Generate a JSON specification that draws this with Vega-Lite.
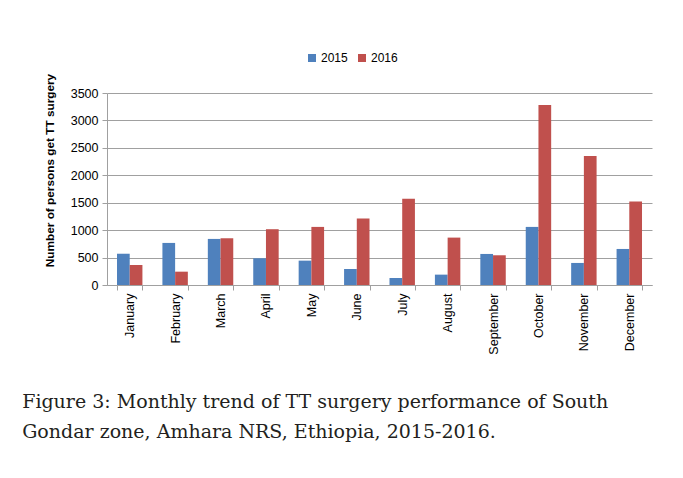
{
  "$schema": "https://vega.github.io/schema/vega-lite/v6.json",
  "width": 545,
  "height": 192,
  "autosize": {"type": "none"},
  "padding": {"left": 107, "top": 93, "right": 31, "bottom": 194},
  "background": "white",
  "config": {"view": {"stroke": null}, "font": "Liberation Sans"},
  "title": {
    "text": ["Figure 3: Monthly trend of TT surgery performance of South", "Gondar zone, Amhara NRS, Ethiopia, 2015-2016."],
    "orient": "bottom",
    "anchor": "start",
    "frame": "bounds",
    "font": "DejaVu Serif",
    "fontSize": 19,
    "fontWeight": "normal",
    "lineHeight": 30,
    "color": "#231f20",
    "dx": -22,
    "offset": 39
  },
  "data": {
    "values": [
      {"month": "January", "year": "2015", "value": 570},
      {"month": "January", "year": "2016", "value": 365},
      {"month": "February", "year": "2015", "value": 767},
      {"month": "February", "year": "2016", "value": 243},
      {"month": "March", "year": "2015", "value": 840},
      {"month": "March", "year": "2016", "value": 852},
      {"month": "April", "year": "2015", "value": 487},
      {"month": "April", "year": "2016", "value": 1017},
      {"month": "May", "year": "2015", "value": 444},
      {"month": "May", "year": "2016", "value": 1059},
      {"month": "June", "year": "2015", "value": 292},
      {"month": "June", "year": "2016", "value": 1211},
      {"month": "July", "year": "2015", "value": 128},
      {"month": "July", "year": "2016", "value": 1570},
      {"month": "August", "year": "2015", "value": 189},
      {"month": "August", "year": "2016", "value": 864},
      {"month": "September", "year": "2015", "value": 566},
      {"month": "September", "year": "2016", "value": 542},
      {"month": "October", "year": "2015", "value": 1059},
      {"month": "October", "year": "2016", "value": 3281},
      {"month": "November", "year": "2015", "value": 402},
      {"month": "November", "year": "2016", "value": 2350},
      {"month": "December", "year": "2015", "value": 657},
      {"month": "December", "year": "2016", "value": 1522}
    ]
  },
  "mark": {"type": "bar"},
  "encoding": {
    "x": {
      "field": "month",
      "type": "nominal",
      "sort": ["January", "February", "March", "April", "May", "June", "July", "August", "September", "October", "November", "December"],
      "scale": {"paddingInner": 0.44, "paddingOuter": 0.22},
      "axis": {
        "title": null,
        "labelAngle": -90,
        "labelAlign": "right",
        "labelBaseline": "middle",
        "labelFontSize": 12.5,
        "labelColor": "#000000",
        "labelPadding": 3,
        "tickBand": "extent",
        "tickSize": 5,
        "tickColor": "#a0a0a0",
        "domainColor": "#a0a0a0",
        "grid": false
      }
    },
    "xOffset": {
      "field": "year",
      "type": "nominal",
      "scale": {"paddingInner": 0, "paddingOuter": 0}
    },
    "y": {
      "field": "value",
      "type": "quantitative",
      "scale": {"domain": [0, 3500], "nice": false},
      "axis": {
        "title": "Number of persons get TT surgery",
        "titleFontSize": 11.8,
        "titleFontWeight": "bold",
        "titleColor": "#000000",
        "titlePadding": 15,
        "titleY": 77,
        "titleAlign": "center",
        "format": "d",
        "values": [0, 500, 1000, 1500, 2000, 2500, 3000, 3500],
        "labelFontSize": 12.5,
        "labelColor": "#000000",
        "labelPadding": 4,
        "tickSize": 5,
        "tickColor": "#a0a0a0",
        "domainColor": "#a0a0a0",
        "gridColor": "#a0a0a0",
        "gridWidth": 1
      }
    },
    "color": {
      "field": "year",
      "type": "nominal",
      "scale": {"domain": ["2015", "2016"], "range": ["#4f81bd", "#c0504d"]},
      "legend": {
        "title": null,
        "orient": "none",
        "direction": "horizontal",
        "legendX": 199,
        "legendY": -41,
        "symbolType": "square",
        "symbolSize": 64,
        "symbolStrokeWidth": 0,
        "labelFontSize": 12,
        "labelColor": "#000000",
        "labelOffset": 3,
        "columnPadding": 8
      }
    }
  }
}
